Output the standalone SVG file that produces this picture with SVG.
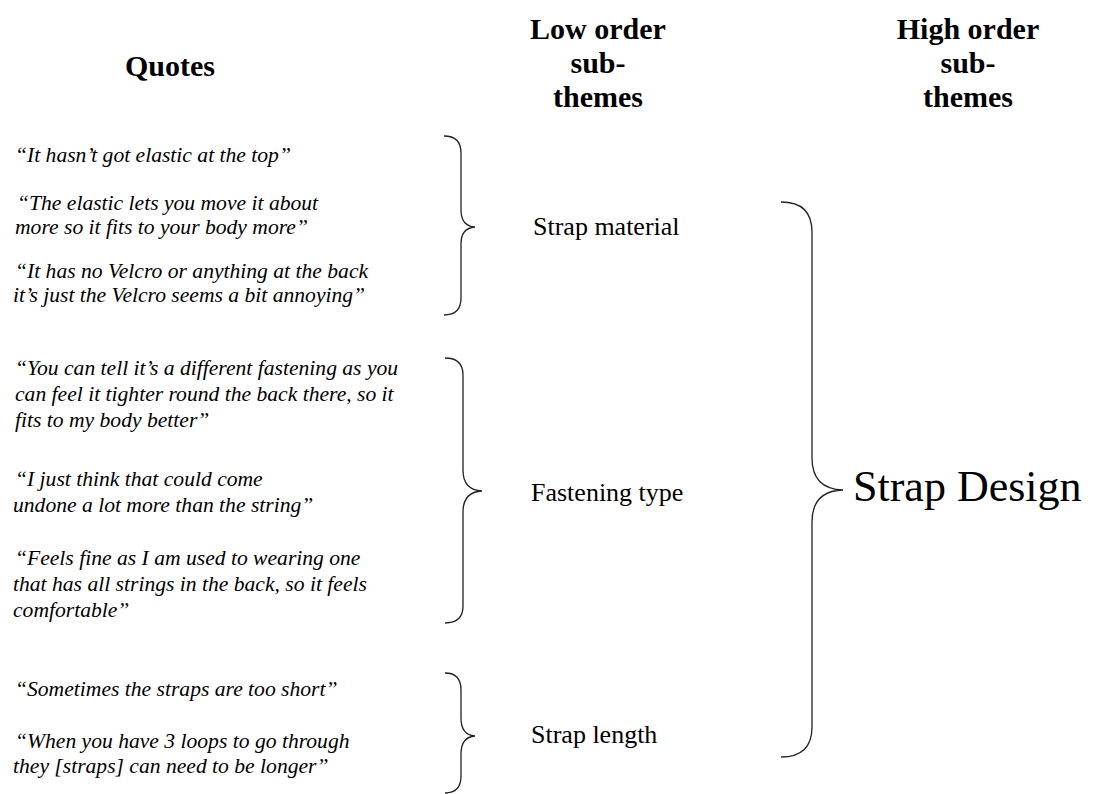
<svg xmlns="http://www.w3.org/2000/svg" width="1093" height="794" viewBox="0 0 1093 794">
  <style>
    .head { font-family: "Liberation Serif", "Times New Roman", serif; font-weight: bold; font-size: 30px; fill: #000; text-anchor: middle; }
    .quote { font-family: "Liberation Serif", "Times New Roman", serif; font-style: italic; font-size: 21.6px; fill: #000; }
    .theme { font-family: "Liberation Serif", "Times New Roman", serif; font-size: 26px; fill: #000; }
    .big { font-family: "Liberation Serif", "Times New Roman", serif; font-size: 44px; fill: #000; }
    .brace { fill: none; stroke: #222; stroke-width: 1.3; }
  </style>
  <rect width="1093" height="794" fill="#fff"/>

  <!-- column headings -->
  <g id="headings">
    <text class="head" x="170" y="76">Quotes</text>
    <text class="head" x="598" y="39">Low order</text>
    <text class="head" x="598" y="73">sub-</text>
    <text class="head" x="598" y="107">themes</text>
    <text class="head" x="968" y="39">High order</text>
    <text class="head" x="968" y="73">sub-</text>
    <text class="head" x="968" y="107">themes</text>
  </g>

  <!-- quotes -->
  <g id="quotes-material">
    <text class="quote" x="15" y="162">“It hasn’t got elastic at the top”</text>
    <text class="quote" x="17" y="210">“The elastic lets you move it about</text>
    <text class="quote" x="15" y="234">more so it fits to your body more”</text>
    <text class="quote" x="15" y="278">“It has no Velcro or anything at the back</text>
    <text class="quote" x="13" y="302">it’s just the Velcro seems a bit annoying”</text>
  </g>
  <g id="quotes-fastening">
    <text class="quote" x="15" y="375">“You can tell it’s a different fastening as you</text>
    <text class="quote" x="15" y="401">can feel it tighter round the back there, so it</text>
    <text class="quote" x="15" y="427">fits to my body better”</text>
    <text class="quote" x="15" y="486">“I just think that could come</text>
    <text class="quote" x="13" y="512">undone a lot more than the string”</text>
    <text class="quote" x="15" y="565">“Feels fine as I am used to wearing one</text>
    <text class="quote" x="13" y="591">that has all strings in the back, so it feels</text>
    <text class="quote" x="13" y="617">comfortable”</text>
  </g>
  <g id="quotes-length">
    <text class="quote" x="15" y="696">“Sometimes the straps are too short”</text>
    <text class="quote" x="15" y="748">“When you have 3 loops to go through</text>
    <text class="quote" x="13" y="773">they [straps] can need to be longer”</text>
  </g>

  <!-- sub-theme labels -->
  <g id="theme-material"><text class="theme" x="533" y="235">Strap material</text></g>
  <g id="theme-fastening"><text class="theme" x="531" y="501">Fastening type</text></g>
  <g id="theme-length"><text class="theme" x="531" y="743">Strap length</text></g>
  <g id="theme-design"><text class="big" x="853" y="501">Strap Design</text></g>

  <!-- grouping braces -->
  <g id="connectors">
    <path class="brace" d="M444,136 Q461,136 461,153 L461,210 Q461,226 475,227 Q461,228 461,244 L461,298 Q461,315 444,315"/>
    <path class="brace" d="M445,358 Q463,358 463,375 L463,470 Q463,490 482,491 Q463,492 463,512 L463,606 Q463,623 445,623"/>
    <path class="brace" d="M445,673 Q461,673 461,690 L461,718 Q461,735 475,736 Q461,737 461,754 L461,776 Q461,793 445,793"/>
    <path class="brace" d="M781,202 Q812,202 812,232 L812,458 Q812,489 843,490 Q812,491 812,522 L812,727 Q812,757 781,757"/>
  </g>
</svg>
